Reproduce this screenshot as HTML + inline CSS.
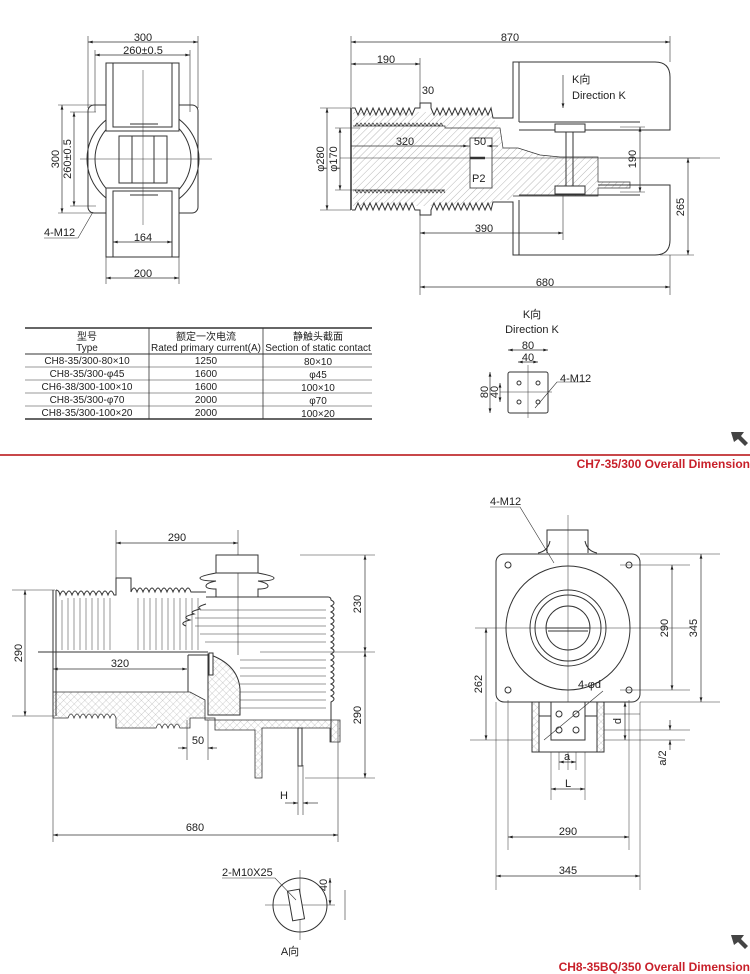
<!DOCTYPE html>
<html><head><meta charset="utf-8"><style>
html,body{margin:0;padding:0;background:#fff;}
svg{display:block;}
text{font-family:"Liberation Sans","Noto Sans CJK SC",sans-serif;fill:#222;font-size:11px;}
.t{font-size:10px;}
.r{fill:#c8202a;font-weight:bold;font-size:12px;}
</style></head><body>
<svg width="750" height="974" viewBox="0 0 750 974" xmlns="http://www.w3.org/2000/svg">
<defs>
<pattern id="h" width="5" height="5" patternUnits="userSpaceOnUse" patternTransform="rotate(45)"><line x1="0" y1="0" x2="0" y2="5" stroke="#999" stroke-width="0.7"/></pattern>
<pattern id="x" width="5" height="5" patternUnits="userSpaceOnUse" patternTransform="rotate(45)"><path d="M0 0V5M0 0H5" stroke="#aaa" stroke-width="0.6"/></pattern>
<marker id="a" viewBox="0 0 10 6" refX="10" refY="3" markerWidth="7" markerHeight="4" orient="auto-start-reverse"><path d="M0 0L10 3L0 6z" fill="#222"/></marker>
</defs>
<g stroke="#333" fill="none" stroke-width="1">
<!-- TOP LEFT VIEW -->
<g stroke-width="0.6"><line x1="88" y1="36" x2="88" y2="108"/><line x1="198" y1="36" x2="198" y2="108"/><line x1="95" y1="50" x2="95" y2="112"/><line x1="190" y1="50" x2="190" y2="112"/></g>
<line x1="88" y1="42" x2="198" y2="42" marker-start="url(#a)" marker-end="url(#a)" stroke-width="0.7"/>
<line x1="95" y1="55" x2="190" y2="55" marker-start="url(#a)" marker-end="url(#a)" stroke-width="0.7"/>
<rect x="88" y="105" width="110" height="108" rx="6"/>
<ellipse cx="143" cy="159" rx="56" ry="52"/>
<ellipse cx="143" cy="159" rx="48" ry="46"/>
<rect x="119" y="136" width="48" height="47" fill="#fff"/>
<line x1="132" y1="136" x2="132" y2="183"/><line x1="154" y1="136" x2="154" y2="183"/>
<rect x="106" y="63" width="73" height="68" fill="#fff"/><rect x="113" y="63" width="59" height="64"/>
<rect x="106" y="188" width="73" height="69" fill="#fff"/><rect x="113" y="191" width="59" height="66"/>
<line x1="130" y1="124" x2="158" y2="124"/><line x1="130" y1="195" x2="158" y2="195"/>
<g stroke-width="0.5"><line x1="143" y1="70" x2="143" y2="225"/><line x1="80" y1="159" x2="212" y2="159"/></g>
<line x1="113" y1="242" x2="172" y2="242" marker-start="url(#a)" marker-end="url(#a)" stroke-width="0.7"/>
<line x1="106" y1="278" x2="179" y2="278" marker-start="url(#a)" marker-end="url(#a)" stroke-width="0.7"/>
<g stroke-width="0.6"><line x1="106" y1="257" x2="106" y2="284"/><line x1="179" y1="257" x2="179" y2="284"/><line x1="58" y1="105" x2="92" y2="105"/><line x1="58" y1="213" x2="92" y2="213"/><line x1="70" y1="112" x2="96" y2="112"/><line x1="70" y1="206" x2="96" y2="206"/></g>
<line x1="62" y1="105" x2="62" y2="213" marker-start="url(#a)" marker-end="url(#a)" stroke-width="0.7"/>
<line x1="74" y1="112" x2="74" y2="206" marker-start="url(#a)" marker-end="url(#a)" stroke-width="0.7"/>
<polyline points="44,238 78,238 93,212" stroke-width="0.6"/>

<!-- TOP RIGHT VIEW -->
<g stroke-width="0.6"><line x1="351" y1="36" x2="351" y2="108"/><line x1="670" y1="36" x2="670" y2="62"/><line x1="420" y1="58" x2="420" y2="103"/><line x1="420" y1="210" x2="420" y2="295"/><line x1="670" y1="255" x2="670" y2="295"/><line x1="563" y1="190" x2="563" y2="240"/><line x1="320" y1="108" x2="351" y2="108"/><line x1="320" y1="210" x2="351" y2="210"/><line x1="335" y1="128" x2="360" y2="128"/><line x1="335" y1="190" x2="360" y2="190"/><line x1="600" y1="158" x2="700" y2="158"/><line x1="620" y1="127" x2="645" y2="127"/><line x1="620" y1="192" x2="645" y2="192"/><line x1="660" y1="255" x2="694" y2="255"/></g>
<line x1="351" y1="42" x2="670" y2="42" marker-start="url(#a)" marker-end="url(#a)" stroke-width="0.7"/>
<line x1="351" y1="64" x2="420" y2="64" marker-start="url(#a)" marker-end="url(#a)" stroke-width="0.7"/>
<path d="M351 108 V210" stroke-width="1.5"/>
<path d="M353 112 H493 V118 L500 128 L503 148 H518 L540 155 L560 157 H598 V182 H630 V188 H598 V196 H513 V200 H493 V206 H353 Z" fill="url(#h)" stroke-width="0"/>
<path d="M353 126 H445 V128 H492 L500 128 L503 148 H518 L540 155 L560 157 H598 V182 H630 V188 H598 V196 H513 M445 190 H353" fill="none" stroke-width="0.7"/>
<rect x="470" y="138" width="22" height="50" fill="#fff" stroke-width="0.8"/>
<path d="M352 108 H355 l3 7 l3 -7 l3 7 l3 -7 l3 7 l3 -7 l3 7 l3 -7 l3 7 l3 -7 l3 7 l3 -7 l3 7 l3 -7 l3 7 l3 -7 l3 7 l3 -7 l3 7 l3 -7 H420 V103 H431 V108 l3 7 l3 -7 l3 7 l3 -7 l3 7 l3 -7 l3 7 l3 -7 l3 7 l3 -7 l3 7 l3 -7 l3 7 l3 -7 l3 7 l3 -7 l3 7 l3 -7 l3 7 l3 -7 L493 118 H513 V62 H655 q15 0 15 15 V130 H519"/>
<path d="M352 210 H355 l3 -7 l3 7 l3 -7 l3 7 l3 -7 l3 7 l3 -7 l3 7 l3 -7 l3 7 l3 -7 l3 7 l3 -7 l3 7 l3 -7 l3 7 l3 -7 l3 7 l3 -7 l3 7 H420 V215 H431 V210 l3 -7 l3 7 l3 -7 l3 7 l3 -7 l3 7 l3 -7 l3 7 l3 -7 l3 7 l3 -7 l3 7 l3 -7 l3 7 l3 -7 l3 7 l3 -7 l3 7 l3 -7 l3 7 L493 202 H513 V255 H655 q15 0 15 -15 V185 H598"/>
<path d="M355 126 l2 -3 l2 3 l2 -3 l2 3 l2 -3 l2 3 l2 -3 l2 3 l2 -3 l2 3 l2 -3 l2 3 l2 -3 l2 3 l2 -3 l2 3 l2 -3 l2 3 l2 -3 l2 3 l2 -3 l2 3 l2 -3 l2 3 l2 -3 l2 3 l2 -3 l2 3 l2 -3 l2 3 l2 -3 l2 3 l2 -3 l2 3 l2 -3 l2 3 l2 -3 l2 3 l2 -3 l2 3 l2 -3 l2 3 l2 -3 l2 3" stroke-width="0.7"/>
<path d="M355 190 l2 3 l2 -3 l2 3 l2 -3 l2 3 l2 -3 l2 3 l2 -3 l2 3 l2 -3 l2 3 l2 -3 l2 3 l2 -3 l2 3 l2 -3 l2 3 l2 -3 l2 3 l2 -3 l2 3 l2 -3 l2 3 l2 -3 l2 3 l2 -3 l2 3 l2 -3 l2 3 l2 -3 l2 3 l2 -3 l2 3 l2 -3 l2 3 l2 -3 l2 3 l2 -3 l2 3 l2 -3 l2 3 l2 -3 l2 3 l2 -3 l2 3" stroke-width="0.7"/>
<line x1="519" y1="62" x2="519" y2="122"/><line x1="519" y1="122" x2="640" y2="122"/>
<line x1="519" y1="200" x2="519" y2="255"/><line x1="519" y1="195" x2="640" y2="195"/>
<rect x="555" y="124" width="30" height="8" fill="#fff"/><rect x="555" y="186" width="30" height="8" fill="#fff"/>
<line x1="566" y1="132" x2="566" y2="186"/><line x1="573" y1="132" x2="573" y2="186"/>
<line x1="563" y1="75" x2="563" y2="108" marker-end="url(#a)" stroke-width="0.7"/>
<line x1="470" y1="158" x2="485" y2="158" stroke-width="2.5"/>
<line x1="340" y1="158" x2="720" y2="158" stroke-width="0.5"/>
<line x1="327" y1="108" x2="327" y2="210" marker-start="url(#a)" marker-end="url(#a)" stroke-width="0.7"/>
<line x1="340" y1="128" x2="340" y2="190" marker-start="url(#a)" marker-end="url(#a)" stroke-width="0.7"/>
<line x1="351" y1="146" x2="468" y2="146" marker-end="url(#a)" stroke-width="0.7"/>
<line x1="460" y1="146" x2="470" y2="146" stroke-width="0.7"/><line x1="487" y1="146" x2="498" y2="146" marker-start="url(#a)" stroke-width="0.7"/>
<line x1="640" y1="127" x2="640" y2="192" marker-start="url(#a)" marker-end="url(#a)" stroke-width="0.7"/>
<line x1="688" y1="158" x2="688" y2="255" marker-start="url(#a)" marker-end="url(#a)" stroke-width="0.7"/>
<line x1="420" y1="233" x2="563" y2="233" marker-start="url(#a)" marker-end="url(#a)" stroke-width="0.7"/>
<line x1="420" y1="287" x2="670" y2="287" marker-start="url(#a)" marker-end="url(#a)" stroke-width="0.7"/>

<!-- TABLE -->
<g stroke-width="1"><line x1="25" y1="328" x2="372" y2="328" stroke-width="1.5"/><line x1="25" y1="354" x2="372" y2="354"/><line x1="25" y1="367" x2="372" y2="367" stroke-width="0.6"/><line x1="25" y1="380" x2="372" y2="380" stroke-width="0.6"/><line x1="25" y1="393" x2="372" y2="393" stroke-width="0.6"/><line x1="25" y1="406" x2="372" y2="406" stroke-width="0.6"/><line x1="25" y1="419" x2="372" y2="419" stroke-width="1.5"/><line x1="149" y1="328" x2="149" y2="419" stroke-width="0.8"/><line x1="263" y1="328" x2="263" y2="419" stroke-width="0.8"/></g>

<!-- K VIEW -->
<rect x="508" y="372" width="40" height="41" rx="2"/>
<line x1="528" y1="365" x2="528" y2="418" stroke-width="0.5"/><line x1="500" y1="392" x2="552" y2="392" stroke-width="0.5"/>
<circle cx="519" cy="383" r="2"/><circle cx="538" cy="383" r="2"/><circle cx="519" cy="402" r="2"/><circle cx="538" cy="402" r="2"/>
<line x1="508" y1="350" x2="548" y2="350" marker-start="url(#a)" marker-end="url(#a)" stroke-width="0.7"/>
<line x1="518" y1="362" x2="538" y2="362" marker-start="url(#a)" marker-end="url(#a)" stroke-width="0.7"/>
<line x1="490" y1="372" x2="490" y2="413" marker-start="url(#a)" marker-end="url(#a)" stroke-width="0.7"/>
<line x1="500" y1="383" x2="500" y2="402" marker-start="url(#a)" marker-end="url(#a)" stroke-width="0.7"/>
<polyline points="585,382 557,382 535,408" stroke-width="0.6"/>

<line x1="0" y1="455" x2="750" y2="455" stroke="#c8474a" stroke-width="2"/>

<!-- BOTTOM LEFT VIEW -->
<g stroke-width="0.6"><line x1="116" y1="530" x2="116" y2="578"/><line x1="238" y1="530" x2="238" y2="655"/><line x1="300" y1="555" x2="375" y2="555"/><line x1="260" y1="652" x2="375" y2="652"/><line x1="305" y1="778" x2="375" y2="778"/><line x1="12" y1="590" x2="55" y2="590"/><line x1="12" y1="716" x2="55" y2="716"/><line x1="53" y1="716" x2="53" y2="842"/><line x1="338" y1="720" x2="338" y2="842"/><line x1="187" y1="720" x2="187" y2="760"/><line x1="208" y1="720" x2="208" y2="760"/><line x1="298" y1="765" x2="298" y2="815"/><line x1="303" y1="765" x2="303" y2="815"/></g>
<line x1="116" y1="543" x2="238" y2="543" marker-start="url(#a)" marker-end="url(#a)" stroke-width="0.7"/>
<path d="M53 692 H190 L205 700 V720 H340 V742 H330 V728 H262 V778 H255 V730 H215 V718 H190 V728 H180 q-3 -8 -6 0 q-3 -8 -6 0 q-3 -8 -6 0 q-3 -8 -6 0 H130 V728 H116 V718 q-3 -8 -6 0 q-3 -8 -6 0 q-3 -8 -6 0 q-3 -8 -6 0 q-3 -8 -6 0 q-3 -8 -6 0 q-3 -8 -6 0 q-3 -8 -6 0 H53 Z" fill="url(#x)" stroke-width="0.8"/>
<path d="M208 654 q30 10 32 35 V715 H208 Z" fill="url(#x)"/>
<path d="M53 590 V716"/><path d="M56 590 V716"/>
<path d="M56 590 q3 0 4 5 q3 -8 6 0 q3 -8 6 0 q3 -8 6 0 q3 -8 6 0 q3 -8 6 0 q3 -8 6 0 q3 -8 6 0 q3 -8 6 0 q3 -8 6 0 H116 V578 H131 V592 q3 -8 6 0 q3 -8 6 0 q3 -8 6 0 q3 -8 6 0 q3 -8 6 0 q3 -8 6 0 q3 -8 6 0 q3 -8 6 0 q3 -8 6 0 q3 -8 6 0 H206"/>
<g stroke-width="0.5"><line x1="62" y1="600" x2="62" y2="650"/><line x1="68" y1="598" x2="68" y2="650"/><line x1="74" y1="598" x2="74" y2="650"/><line x1="80" y1="598" x2="80" y2="650"/><line x1="86" y1="598" x2="86" y2="650"/><line x1="92" y1="598" x2="92" y2="650"/><line x1="98" y1="598" x2="98" y2="650"/><line x1="104" y1="598" x2="104" y2="650"/><line x1="110" y1="598" x2="110" y2="650"/><line x1="138" y1="598" x2="138" y2="650"/><line x1="144" y1="598" x2="144" y2="650"/><line x1="150" y1="598" x2="150" y2="650"/><line x1="156" y1="598" x2="156" y2="650"/><line x1="162" y1="598" x2="162" y2="650"/><line x1="168" y1="598" x2="168" y2="650"/><line x1="174" y1="598" x2="174" y2="650"/><line x1="180" y1="598" x2="180" y2="650"/><line x1="186" y1="598" x2="186" y2="650"/><line x1="192" y1="598" x2="192" y2="650"/><line x1="198" y1="598" x2="198" y2="650"/></g>
<line x1="38" y1="652" x2="208" y2="652"/><line x1="188" y1="655" x2="188" y2="692"/><line x1="188" y1="655" x2="208" y2="655"/>
<rect x="209" y="653" width="4" height="22" fill="#fff"/>
<rect x="216" y="555" width="42" height="18" fill="#fff"/>
<path d="M216 573 q-16 3 -16 5 q0 3 16 3 q-10 2 -10 5 q0 3 10 3 V597 M258 573 q16 3 16 5 q0 3 -16 3 q10 2 10 5 q0 3 -10 3 V597"/>
<path d="M206 597 H328 q3 0 3 3 q6 3 0 6 q6 3 0 6 q6 3 0 6 q6 3 0 6 q6 3 0 6 q6 3 0 6 q6 3 0 6 q6 3 0 6 q6 3 0 6 q6 3 0 6 q6 3 0 6 q6 3 0 6 q6 3 0 6 q6 3 0 6 q6 3 0 6 q6 3 0 6 q6 3 0 6 V742"/>
<path d="M206 604 q-10 3 -6 5 q-12 3 -6 5 q-14 3 -4 6 q-12 3 -4 6"/>
<g stroke-width="0.5"><line x1="200" y1="610" x2="326" y2="610"/><line x1="195" y1="618" x2="326" y2="618"/><line x1="195" y1="626" x2="326" y2="626"/><line x1="200" y1="634" x2="326" y2="634"/><line x1="205" y1="642" x2="326" y2="642"/><line x1="240" y1="660" x2="326" y2="660"/><line x1="240" y1="668" x2="326" y2="668"/><line x1="240" y1="676" x2="326" y2="676"/><line x1="240" y1="684" x2="326" y2="684"/><line x1="240" y1="692" x2="326" y2="692"/><line x1="240" y1="700" x2="326" y2="700"/><line x1="240" y1="708" x2="326" y2="708"/></g>
<rect x="298" y="728" width="4" height="38" fill="#fff"/>
<line x1="25" y1="590" x2="25" y2="716" marker-start="url(#a)" marker-end="url(#a)" stroke-width="0.7"/>
<line x1="53" y1="669" x2="187" y2="669" marker-start="url(#a)" marker-end="url(#a)" stroke-width="0.7"/>
<line x1="365" y1="555" x2="365" y2="652" marker-start="url(#a)" marker-end="url(#a)" stroke-width="0.7"/>
<line x1="365" y1="652" x2="365" y2="778" marker-start="url(#a)" marker-end="url(#a)" stroke-width="0.7"/>
<line x1="178" y1="748" x2="187" y2="748" marker-end="url(#a)" stroke-width="0.7"/><line x1="217" y1="748" x2="208" y2="748" marker-end="url(#a)" stroke-width="0.7"/>
<line x1="285" y1="803" x2="298" y2="803" marker-end="url(#a)" stroke-width="0.7"/><line x1="318" y1="803" x2="303" y2="803" marker-end="url(#a)" stroke-width="0.7"/>
<line x1="53" y1="835" x2="338" y2="835" marker-start="url(#a)" marker-end="url(#a)" stroke-width="0.7"/>
<!-- A view -->
<circle cx="300" cy="905" r="27"/>
<line x1="300" y1="870" x2="300" y2="940" stroke-width="0.5"/><line x1="265" y1="905" x2="335" y2="905" stroke-width="0.5"/>
<rect x="290" y="890" width="12" height="30" fill="#fff" transform="rotate(-10 296 905)"/>
<polyline points="222,878 275,878 296,900" stroke-width="0.6"/>
<line x1="330" y1="878" x2="330" y2="905" marker-start="url(#a)" marker-end="url(#a)" stroke-width="0.7"/>
<line x1="345" y1="890" x2="345" y2="920" stroke-width="0.6"/>

<!-- BOTTOM RIGHT VIEW -->
<path d="M547 553 V530 H588 V553" /><path d="M538 553 q10 -2 12 -12 M597 553 q-10 -2 -12 -12"/>
<rect x="496" y="554" width="144" height="148" rx="8" fill="#fff"/>
<circle cx="568" cy="628" r="62"/><circle cx="568" cy="628" r="38"/><circle cx="568" cy="628" r="33"/><circle cx="568" cy="628" r="22"/>
<line x1="546" y1="628" x2="590" y2="628"/><line x1="548" y1="631" x2="588" y2="631"/>
<circle cx="508" cy="565" r="3"/><circle cx="629" cy="565" r="3"/><circle cx="508" cy="690" r="3"/><circle cx="629" cy="690" r="3"/>
<g stroke-width="0.5"><line x1="568" y1="515" x2="568" y2="770"/><line x1="475" y1="628" x2="690" y2="628"/><line x1="620" y1="565" x2="690" y2="565"/><line x1="620" y1="690" x2="690" y2="690"/><line x1="640" y1="554" x2="720" y2="554"/><line x1="640" y1="702" x2="720" y2="702"/><line x1="470" y1="740" x2="685" y2="740"/><line x1="585" y1="714" x2="640" y2="714"/><line x1="585" y1="730" x2="690" y2="730"/><line x1="508" y1="700" x2="508" y2="850"/><line x1="629" y1="700" x2="629" y2="850"/><line x1="496" y1="702" x2="496" y2="890"/><line x1="640" y1="702" x2="640" y2="890"/><line x1="559" y1="740" x2="559" y2="770"/><line x1="576" y1="740" x2="576" y2="770"/><line x1="551" y1="740" x2="551" y2="800"/><line x1="585" y1="740" x2="585" y2="800"/></g>
<rect x="532" y="702" width="72" height="50" fill="#fff"/>
<rect x="532" y="702" width="7" height="50" fill="url(#x)"/><rect x="597" y="702" width="7" height="50" fill="url(#x)"/>
<rect x="551" y="702" width="34" height="38" fill="#fff"/>
<line x1="539" y1="716" x2="551" y2="716"/><line x1="585" y1="716" x2="597" y2="716"/>
<circle cx="559" cy="714" r="3"/><circle cx="576" cy="714" r="3"/><circle cx="559" cy="730" r="3"/><circle cx="576" cy="730" r="3"/>
<polyline points="490,507 520,507 554,563" stroke-width="0.6"/>
<line x1="544" y1="740" x2="603" y2="691" stroke-width="0.6"/>
<line x1="672" y1="565" x2="672" y2="690" marker-start="url(#a)" marker-end="url(#a)" stroke-width="0.7"/>
<line x1="701" y1="554" x2="701" y2="702" marker-start="url(#a)" marker-end="url(#a)" stroke-width="0.7"/>
<line x1="486" y1="628" x2="486" y2="740" marker-start="url(#a)" marker-end="url(#a)" stroke-width="0.7"/>
<line x1="625" y1="702" x2="625" y2="740" marker-start="url(#a)" marker-end="url(#a)" stroke-width="0.7"/>
<line x1="670" y1="720" x2="670" y2="730" marker-end="url(#a)" stroke-width="0.7"/><line x1="670" y1="750" x2="670" y2="740" marker-end="url(#a)" stroke-width="0.7"/>
<line x1="559" y1="762" x2="576" y2="762" marker-start="url(#a)" marker-end="url(#a)" stroke-width="0.7"/>
<line x1="551" y1="789" x2="585" y2="789" marker-start="url(#a)" marker-end="url(#a)" stroke-width="0.7"/>
<line x1="508" y1="837" x2="629" y2="837" marker-start="url(#a)" marker-end="url(#a)" stroke-width="0.7"/>
<line x1="496" y1="876" x2="640" y2="876" marker-start="url(#a)" marker-end="url(#a)" stroke-width="0.7"/>
</g>
<!-- corner arrows -->
<path d="M731 432 L744 432 L741 436 L748 443 L745 446 L738 439 L734 442 Z" fill="#444"/>
<path d="M731 935 L744 935 L741 939 L748 946 L745 949 L738 942 L734 945 Z" fill="#444"/>

<!-- TEXT -->
<text x="143" y="41" text-anchor="middle">300</text>
<text x="143" y="54" text-anchor="middle">260±0.5</text>
<text x="59" y="159" text-anchor="middle" transform="rotate(-90 59 159)">300</text>
<text x="71" y="159" text-anchor="middle" transform="rotate(-90 71 159)">260±0.5</text>
<text x="44" y="236">4-M12</text>
<text x="143" y="241" text-anchor="middle">164</text>
<text x="143" y="277" text-anchor="middle">200</text>
<text x="510" y="41" text-anchor="middle">870</text>
<text x="386" y="63" text-anchor="middle">190</text>
<text x="428" y="94" text-anchor="middle">30</text>
<text x="405" y="145" text-anchor="middle">320</text>
<text x="480" y="145" text-anchor="middle">50</text>
<text x="472" y="182">P2</text>
<text x="572" y="83">K向</text>
<text x="572" y="99">Direction K</text>
<text x="324" y="159" text-anchor="middle" transform="rotate(-90 324 159)">φ280</text>
<text x="337" y="159" text-anchor="middle" transform="rotate(-90 337 159)">φ170</text>
<text x="636" y="159" text-anchor="middle" transform="rotate(-90 636 159)">190</text>
<text x="684" y="207" text-anchor="middle" transform="rotate(-90 684 207)">265</text>
<text x="484" y="232" text-anchor="middle">390</text>
<text x="545" y="286" text-anchor="middle">680</text>

<g class="t" text-anchor="middle">
<text x="87" y="340" class="t">型号</text><text x="87" y="351" class="t">Type</text>
<text x="206" y="340" class="t">额定一次电流</text><text x="206" y="351" class="t" font-size="9">Rated primary current(A)</text>
<text x="318" y="340" class="t">静触头截面</text><text x="318" y="351" class="t" font-size="9">Section of static contact</text>
<text x="87" y="364" class="t">CH8-35/300-80×10</text><text x="206" y="364" class="t">1250</text><text x="318" y="365" class="t">80×10</text>
<text x="87" y="377" class="t">CH8-35/300-φ45</text><text x="206" y="377" class="t">1600</text><text x="318" y="378" class="t">φ45</text>
<text x="87" y="390" class="t">CH6-38/300-100×10</text><text x="206" y="390" class="t">1600</text><text x="318" y="391" class="t">100×10</text>
<text x="87" y="403" class="t">CH8-35/300-φ70</text><text x="206" y="403" class="t">2000</text><text x="318" y="404" class="t">φ70</text>
<text x="87" y="416" class="t">CH8-35/300-100×20</text><text x="206" y="416" class="t">2000</text><text x="318" y="417" class="t">100×20</text>
</g>
<text x="532" y="318" text-anchor="middle">K向</text>
<text x="532" y="333" text-anchor="middle">Direction K</text>
<text x="528" y="349" text-anchor="middle">80</text>
<text x="528" y="361" text-anchor="middle">40</text>
<text x="488" y="392" text-anchor="middle" transform="rotate(-90 488 392)">80</text>
<text x="498" y="392" text-anchor="middle" transform="rotate(-90 498 392)">40</text>
<text x="560" y="382">4-M12</text>
<text x="750" y="468" text-anchor="end" class="r">CH7-35/300 Overall Dimension</text>

<text x="177" y="541" text-anchor="middle">290</text>
<text x="22" y="653" text-anchor="middle" transform="rotate(-90 22 653)">290</text>
<text x="120" y="667" text-anchor="middle">320</text>
<text x="198" y="744" text-anchor="middle">50</text>
<text x="284" y="799" text-anchor="middle">H</text>
<text x="195" y="831" text-anchor="middle">680</text>
<text x="361" y="604" text-anchor="middle" transform="rotate(-90 361 604)">230</text>
<text x="361" y="715" text-anchor="middle" transform="rotate(-90 361 715)">290</text>
<text x="222" y="876">2-M10X25</text>
<text x="327" y="885" text-anchor="middle" transform="rotate(-90 327 885)">40</text>
<text x="290" y="955" text-anchor="middle">A向</text>
<text x="490" y="505">4-M12</text>
<text x="668" y="628" text-anchor="middle" transform="rotate(-90 668 628)">290</text>
<text x="697" y="628" text-anchor="middle" transform="rotate(-90 697 628)">345</text>
<text x="482" y="684" text-anchor="middle" transform="rotate(-90 482 684)">262</text>
<text x="578" y="688">4-φd</text>
<text x="621" y="721" text-anchor="middle" transform="rotate(-90 621 721)">d</text>
<text x="666" y="758" text-anchor="middle" transform="rotate(-90 666 758)">a/2</text>
<text x="567" y="760" text-anchor="middle">a</text>
<text x="568" y="787" text-anchor="middle">L</text>
<text x="568" y="835" text-anchor="middle">290</text>
<text x="568" y="874" text-anchor="middle">345</text>
<text x="750" y="971" text-anchor="end" class="r">CH8-35BQ/350 Overall Dimension</text>
</svg>
</body></html>
